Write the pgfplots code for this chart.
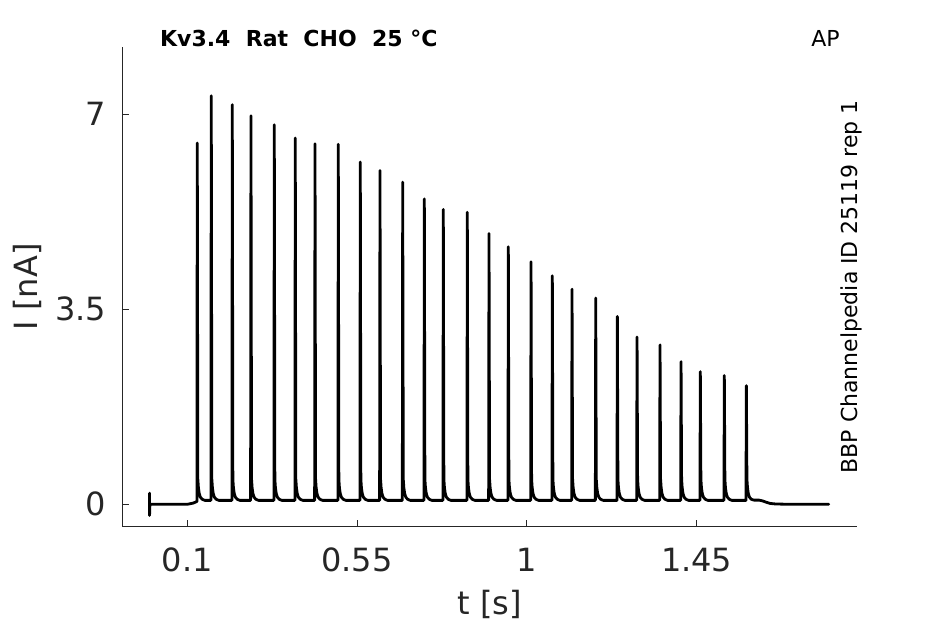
\documentclass[border=0pt]{standalone}
\usepackage{pgfplots}
\pgfplotsset{compat=1.18}
\usepackage{fontspec}
\setmainfont{DejaVu Sans}
\definecolor{axgray}{rgb}{0.15,0.15,0.15}
\begin{document}
\begin{tikzpicture}
\begin{axis}[
  scale only axis,
  width=734.4bp, height=480bp,
  xmin=-0.0722, xmax=1.874,
  ymin=-0.402, ymax=8.21,
  clip=false,
  axis x line*=bottom,
  axis y line*=left,
  axis line style={axgray, line width=1bp, -},
  tick style={axgray, line width=1bp},
  tick align=inside,
  major tick length=7bp,
  xtick={0.1,0.55,1,1.45},
  xticklabels={0.1,0.55,1,1.45},
  ytick={0,3.5,7},
  yticklabels={0,3.5,7},
  minor tick num=0,
  /pgf/number format/assume math mode=true,
  ticklabel style={font=\fontsize{32bp}{38bp}\selectfont, text=axgray, inner sep=0pt},
  xticklabel style={anchor=base, yshift=-45bp},
  yticklabel style={anchor=east, xshift=-16bp},
  xlabel={t [s]},
  ylabel={I [nA]},
  label style={font=\fontsize{32bp}{38bp}\selectfont, text=axgray, inner sep=0pt},
  xlabel style={at={(axis description cs:0.5,-0.1819)}, anchor=base},
  ylabel style={at={(axis description cs:-0.129,0.5)}, anchor=center, rotate=0},
]
\addplot[black, line width=2.8bp, line join=round, line cap=round] coordinates {
(0,0.20)(0,-0.20)(0.001,0)(0.10,0)(0.115,0.02)
(0.1255,0.05)(0.1265,6.48)(0.1280,0.45)(0.1295,0.30)(0.1315,0.20)(0.1345,0.13)(0.1395,0.09)(0.1465,0.07)
(0.1626,0.07)(0.1636,7.33)(0.1651,0.45)(0.1666,0.30)(0.1686,0.20)(0.1716,0.13)(0.1766,0.09)(0.1836,0.07)
(0.2183,0.07)(0.2193,7.17)(0.2208,0.45)(0.2223,0.30)(0.2243,0.20)(0.2273,0.13)(0.2323,0.09)(0.2393,0.07)
(0.2678,0.07)(0.2688,6.97)(0.2703,0.45)(0.2718,0.30)(0.2738,0.20)(0.2768,0.13)(0.2818,0.09)(0.2888,0.07)
(0.3296,0.07)(0.3306,6.81)(0.3321,0.45)(0.3336,0.30)(0.3356,0.20)(0.3386,0.13)(0.3436,0.09)(0.3506,0.07)
(0.3852,0.07)(0.3862,6.57)(0.3877,0.45)(0.3892,0.30)(0.3912,0.20)(0.3942,0.13)(0.3992,0.09)(0.4062,0.07)
(0.4375,0.07)(0.4385,6.47)(0.4400,0.45)(0.4415,0.30)(0.4435,0.20)(0.4465,0.13)(0.4515,0.09)(0.4585,0.07)
(0.4992,0.07)(0.5002,6.46)(0.5017,0.45)(0.5032,0.30)(0.5052,0.20)(0.5082,0.13)(0.5132,0.09)(0.5202,0.07)
(0.5575,0.07)(0.5585,6.14)(0.5600,0.45)(0.5615,0.30)(0.5635,0.20)(0.5665,0.13)(0.5715,0.09)(0.5785,0.07)
(0.6097,0.07)(0.6107,5.99)(0.6122,0.45)(0.6137,0.30)(0.6157,0.20)(0.6187,0.13)(0.6237,0.09)(0.6307,0.07)
(0.6699,0.07)(0.6709,5.78)(0.6724,0.45)(0.6739,0.30)(0.6759,0.20)(0.6789,0.13)(0.6839,0.09)(0.6909,0.07)
(0.7272,0.07)(0.7282,5.48)(0.7297,0.45)(0.7312,0.30)(0.7332,0.20)(0.7362,0.13)(0.7412,0.09)(0.7482,0.07)
(0.7775,0.07)(0.7785,5.29)(0.7800,0.45)(0.7815,0.30)(0.7835,0.20)(0.7865,0.13)(0.7915,0.09)(0.7985,0.07)
(0.8411,0.07)(0.8421,5.24)(0.8436,0.45)(0.8451,0.30)(0.8471,0.20)(0.8501,0.13)(0.8551,0.09)(0.8621,0.07)
(0.8986,0.07)(0.8996,4.86)(0.9011,0.45)(0.9026,0.30)(0.9046,0.20)(0.9076,0.13)(0.9126,0.09)(0.9196,0.07)
(0.9498,0.07)(0.9508,4.62)(0.9523,0.45)(0.9538,0.30)(0.9558,0.20)(0.9588,0.13)(0.9638,0.09)(0.9708,0.07)
(1.0100,0.07)(1.0110,4.35)(1.0125,0.45)(1.0140,0.30)(1.0160,0.20)(1.0190,0.13)(1.0240,0.09)(1.0310,0.07)
(1.0664,0.07)(1.0674,4.10)(1.0689,0.45)(1.0704,0.30)(1.0724,0.20)(1.0754,0.13)(1.0804,0.09)(1.0874,0.07)
(1.1186,0.07)(1.1196,3.86)(1.1211,0.45)(1.1226,0.30)(1.1246,0.20)(1.1276,0.13)(1.1326,0.09)(1.1396,0.07)
(1.1814,0.07)(1.1824,3.70)(1.1839,0.45)(1.1854,0.30)(1.1874,0.20)(1.1904,0.13)(1.1954,0.09)(1.2024,0.07)
(1.2387,0.07)(1.2397,3.37)(1.2412,0.45)(1.2427,0.30)(1.2447,0.20)(1.2477,0.13)(1.2527,0.09)(1.2597,0.07)
(1.2909,0.07)(1.2919,3.00)(1.2934,0.45)(1.2949,0.30)(1.2969,0.20)(1.2999,0.13)(1.3049,0.09)(1.3119,0.07)
(1.3518,0.07)(1.3528,2.86)(1.3543,0.45)(1.3558,0.30)(1.3578,0.20)(1.3608,0.13)(1.3658,0.09)(1.3728,0.07)
(1.4075,0.07)(1.4085,2.56)(1.4100,0.45)(1.4115,0.30)(1.4135,0.20)(1.4165,0.13)(1.4215,0.09)(1.4285,0.07)
(1.4586,0.07)(1.4596,2.38)(1.4611,0.45)(1.4626,0.30)(1.4646,0.20)(1.4676,0.13)(1.4726,0.09)(1.4796,0.07)
(1.5222,0.07)(1.5232,2.31)(1.5247,0.45)(1.5262,0.30)(1.5282,0.20)(1.5312,0.13)(1.5362,0.09)(1.5432,0.07)
(1.5806,0.07)(1.5816,2.13)(1.5831,0.45)(1.5846,0.30)(1.5866,0.20)(1.5896,0.13)(1.5946,0.09)(1.6016,0.075)
(1.615,0.075)(1.625,0.06)(1.635,0.035)(1.645,0.015)(1.66,0.005)(1.70,0)(1.80,0)
};
\coordinate (O) at (rel axis cs:0,0);
\node[anchor=base west, inner sep=0pt, font=\fontsize{22bp}{26bp}\selectfont\bfseries] at (rel axis cs:0.0513,1) {Kv3.4\ \ Rat\ \ CHO\ \ 25 °C};
\node[anchor=base west, inner sep=0pt, font=\fontsize{22bp}{26bp}\selectfont] at (rel axis cs:0.9380,1) {AP};
\node[anchor=base, rotate=90, inner sep=0pt, font=\fontsize{22bp}{26bp}\selectfont] at (rel axis cs:1.0008,0.5) {BBP Channelpedia ID 25119 rep 1};
\end{axis}
\pgfresetboundingbox
\path[use as bounding box] ([shift={(-122.3bp,-97.3bp)}]O) rectangle ([shift={(822.7bp,526.7bp)}]O);
\end{tikzpicture}
\end{document}
